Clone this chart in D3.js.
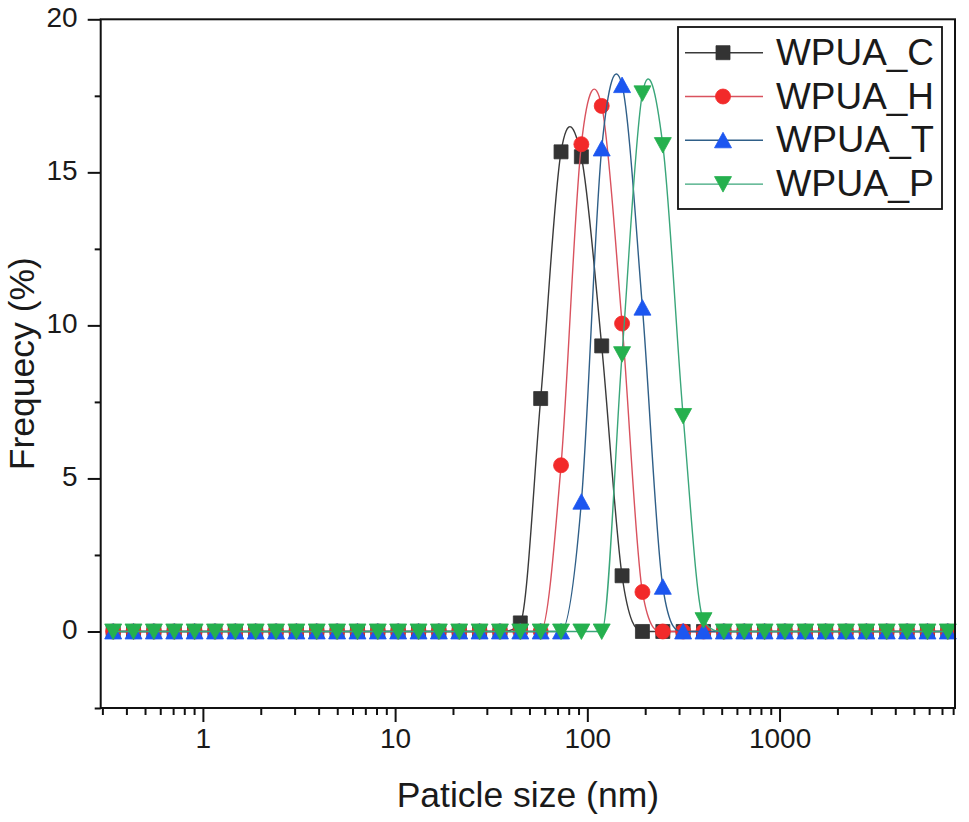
<!DOCTYPE html>
<html><head><meta charset="utf-8">
<script src="https://cdn.jsdelivr.net/npm/d3@7"></script>
<style>
html,body{margin:0;padding:0;background:#fff;}
text{font-family:"Liberation Sans",Arial,sans-serif;fill:#1a1a1a;}
</style></head>
<body><svg id="chart" width="969" height="822"></svg>
<script>
// Particle size classes (nm)
const sizes = [0.3415,0.4356,0.5559,0.7096,0.9055,1.156,1.475,1.882,2.402,3.065,
  3.911,4.991,6.370,8.128,10.37,13.24,16.89,21.56,27.51,35.11,
  44.81,57.19,72.98,93.11,118.8,151.6,193.5,247.0,315.1,402.2,
  513.3,655.0,835.9,1067,1361,1737,2217,2829,3611,4608,5881,7505];
const wpuaC = [0,0,0,0,0,0,0,0,0,0, 0,0,0,0,0,0,0,0,0,0,
  0.28,7.61,15.67,15.51,9.33,1.82,0,0,0,0, 0,0,0,0,0,0,0,0,0,0, 0,0];
const wpuaH = [0,0,0,0,0,0,0,0,0,0, 0,0,0,0,0,0,0,0,0,0,
  0,0,5.43,15.92,17.17,10.06,1.29,0,0,0, 0,0,0,0,0,0,0,0,0,0, 0,0];
const wpuaT = [0,0,0,0,0,0,0,0,0,0, 0,0,0,0,0,0,0,0,0,0,
  0,0,0,4.24,15.78,17.85,10.58,1.46,0,0, 0,0,0,0,0,0,0,0,0,0, 0,0];
const wpuaP = [0,0,0,0,0,0,0,0,0,0, 0,0,0,0,0,0,0,0,0,0,
  0,0,0,0,0,9.06,17.58,15.89,7.04,0.37, 0,0,0,0,0,0,0,0,0,0, 0,0];
const seriesNames = ["WPUA_C","WPUA_H","WPUA_T","WPUA_P"];
const xMajorTicks = [1,10,100,1000];
const xMinorTicks = [0.3,0.4,0.5,0.6,0.7,0.8,0.9,2,3,4,5,6,7,8,9,20,30,40,50,60,70,80,90,
  200,300,400,500,600,700,800,900,2000,3000,4000,5000,6000,7000,8000];
const yMajorTicks = [0,5,10,15,20];
const yMinorTicks = [-2.5,2.5,7.5,12.5,17.5];

const styles = [
  {line:"#3a3a3a", fill:"#333333", shape:"square"},
  {line:"#d9525e", fill:"#f22a2a", shape:"circle"},
  {line:"#2f5f88", fill:"#1c56f0", shape:"up"},
  {line:"#3aa67a", fill:"#25b04e", shape:"down"}
];
const values = [wpuaC,wpuaH,wpuaT,wpuaP];

// Spline curve (Catmull-Rom tangents, kept from dipping at flat baseline parts)
function SplineCurve(context){ this._context = context; }
SplineCurve.prototype = {
  areaStart(){ this._line = 0; }, areaEnd(){ this._line = NaN; },
  lineStart(){ this._x = []; this._y = []; },
  point(x,y){ this._x.push(+x); this._y.push(+y); },
  lineEnd(){
    const X=this._x, Y=this._y, n=X.length, c=this._context;
    if(!n) return;
    const d=[]; for(let i=0;i<n-1;i++) d.push(Y[i+1]-Y[i]);
    const m=new Array(n).fill(0);
    for(let i=1;i<n-1;i++){
      m[i]=(Y[i+1]-Y[i-1])/2;
      const isPeak = d[i-1]<0 && d[i]>0; // pixel y inverted: local maximum of data
      if(d[i-1]*d[i]<=0 && !isPeak) m[i]=0;
    }
    for(let i=0;i<n-1;i++){
      if(d[i]===0){ m[i]=0; m[i+1]=0; continue; }
      if(m[i]*d[i]>=0 && m[i+1]*d[i]>=0){
        const a=m[i]/d[i], b=m[i+1]/d[i], s=a*a+b*b;
        if(s>9){ const t=3/Math.sqrt(s); m[i]=t*a*d[i]; m[i+1]=t*b*d[i]; }
      }
    }
    c.moveTo(X[0],Y[0]);
    for(let i=0;i<n-1;i++){
      const dx=(X[i+1]-X[i])/3;
      c.bezierCurveTo(X[i]+dx, Y[i]+m[i]/3, X[i+1]-dx, Y[i+1]-m[i+1]/3, X[i+1], Y[i+1]);
    }
  }
};
const splineCurve = ctx => new SplineCurve(ctx);

const svg = d3.select("#chart");
const L=100.7, R=955, T=19.3, B=708;
const x = d3.scaleLog().domain([0.294, 8180]).range([L,R]);
const y = d3.scaleLinear().domain([-2.5,20]).range([B,T]);

function markerPath(shape){
  if(shape==="square") return "M-7,-7H7V7H-7Z";
  if(shape==="circle") return "M7.5,0A7.5,7.5 0 1,1 -7.5,0A7.5,7.5 0 1,1 7.5,0Z";
  if(shape==="up") return "M0,-8L8.5,7.5L-8.5,7.5Z";
  return "M0,8L8.5,-7.5L-8.5,-7.5Z";
}

const plot = svg.append("g");
const line = d3.line().curve(splineCurve)
  .x((d,i)=>x(sizes[i])).y(d=>y(d));

values.forEach((vals,si)=>{
  const st = styles[si];
  plot.append("path").datum(vals).attr("d",line)
    .attr("fill","none").attr("stroke",st.line).attr("stroke-width",1.4);
  plot.selectAll(null).data(vals).enter().append("path")
    .attr("d",markerPath(st.shape))
    .attr("transform",(d,i)=>`translate(${x(sizes[i])},${y(d)})`)
    .attr("fill",st.fill).attr("stroke",st.fill).attr("stroke-width",0.8);
});

// frame
svg.append("rect").attr("x",L).attr("y",T).attr("width",R-L).attr("height",B-T)
  .attr("fill","none").attr("stroke","#111").attr("stroke-width",2);

// x axis
const xAxis = d3.axisBottom(x).tickValues(xMajorTicks).tickFormat(d3.format("d"))
  .tickSize(14).tickPadding(6);
const gx = svg.append("g").attr("transform",`translate(0,${B})`).call(xAxis);
gx.select(".domain").remove();
gx.selectAll(".tick line").attr("stroke","#111").attr("stroke-width",2);
gx.selectAll(".tick text").attr("font-size",28).attr("fill","#1a1a1a")
  .attr("font-family","'Liberation Sans',Arial,sans-serif");
const gxm = svg.append("g").attr("transform",`translate(0,${B})`)
  .call(d3.axisBottom(x).tickValues(xMinorTicks).tickSize(7).tickFormat(""));
gxm.select(".domain").remove();
gxm.selectAll(".tick line").attr("stroke","#111").attr("stroke-width",2);

// y axis
const yAxis = d3.axisLeft(y).tickValues(yMajorTicks).tickSize(13).tickPadding(10);
const gy = svg.append("g").attr("transform",`translate(${L},0)`).call(yAxis);
gy.select(".domain").remove();
gy.selectAll(".tick line").attr("stroke","#111").attr("stroke-width",2);
gy.selectAll(".tick text").attr("font-size",28).attr("fill","#1a1a1a")
  .attr("font-family","'Liberation Sans',Arial,sans-serif").attr("dy","0.25em");
const gym = svg.append("g").attr("transform",`translate(${L},0)`)
  .call(d3.axisLeft(y).tickValues(yMinorTicks).tickSize(6).tickFormat(""));
gym.select(".domain").remove();
gym.selectAll(".tick line").attr("stroke","#111").attr("stroke-width",2);

// titles
svg.append("text").attr("x",(L+R)/2).attr("y",807).attr("text-anchor","middle")
  .attr("font-size",35.5).text("Paticle size (nm)");
svg.append("text").attr("transform",`translate(34,${(T+B)/2})rotate(-90)`)
  .attr("text-anchor","middle").attr("font-size",35.5).text("Frequecy (%)");

// legend
const lg = svg.append("g");
lg.append("rect").attr("x",678).attr("y",27).attr("width",264).attr("height",182)
  .attr("fill","#fff").attr("stroke","#111").attr("stroke-width",1.8);
seriesNames.forEach((name,i)=>{
  const cy = 52.7 + i*43.8;
  const st = styles[i];
  lg.append("line").attr("x1",685).attr("x2",763).attr("y1",cy).attr("y2",cy)
    .attr("stroke",st.line).attr("stroke-width",1.4);
  lg.append("path").attr("d",markerPath(st.shape)).attr("transform",`translate(723,${cy})`)
    .attr("fill",st.fill).attr("stroke",st.fill).attr("stroke-width",0.8);
  lg.append("text").attr("x",776).attr("y",cy+12).attr("font-size",36)
    .attr("textLength",158).attr("lengthAdjust","spacingAndGlyphs").text(name);
});
</script></body></html>
